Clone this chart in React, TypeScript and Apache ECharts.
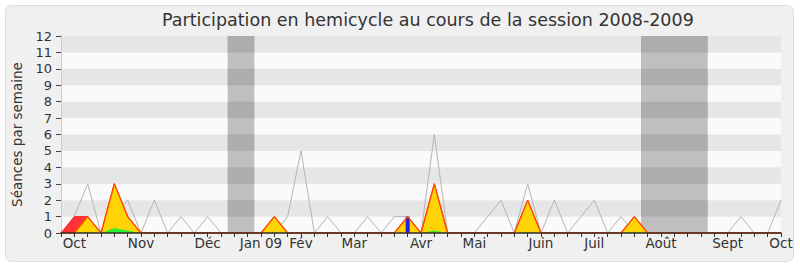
import React, { useEffect, useRef } from "react";
import * as echarts from "echarts";

// Week index (0..54) on the x axis; labels at the week where each month starts
const labelWeeks = [1, 6, 11, 15, 18, 22, 27, 31, 36, 40, 45, 50, 54];
const monthLabels = ["Oct", "Nov", "Déc", "Jan 09", "Fév", "Mar", "Avr", "Mai", "Juin", "Juil", "Août", "Sept", "Oct"];
const yTicks = [0, 1, 2, 3, 4, 5, 6, 7, 8, 9, 10, 11, 12];

// Grey line: séances de la semaine
const seances = [0, 1, 3, 0, 1, 2, 0, 2, 0, 1, 0, 1, 0, 0, 0, 0, 0, 1, 5, 0, 1, 0, 0, 1, 0, 1, 1, 0, 6, 0, 0, 0, 1, 2, 0, 3, 0, 2, 0, 1, 2, 0, 1, 0, 0, 0, 0, 0, 0, 0, 0, 1, 0, 0, 2];
// Red area: présences
const presences = [0, 1, 1, 0, 3, 1, 0, 0, 0, 0, 0, 0, 0, 0, 0, 0, 1, 0, 0, 0, 0, 0, 0, 0, 0, 0, 1, 0, 3, 0, 0, 0, 0, 0, 0, 2, 0, 0, 0, 0, 0, 0, 0, 1, 0, 0, 0, 0, 0, 0, 0, 0, 0, 0, 0];
// Yellow area: participations
const participations = [0, 0, 1, 0, 3, 1, 0, 0, 0, 0, 0, 0, 0, 0, 0, 0, 1, 0, 0, 0, 0, 0, 0, 0, 0, 0, 1, 0, 3, 0, 0, 0, 0, 0, 0, 2, 0, 0, 0, 0, 0, 0, 0, 1, 0, 0, 0, 0, 0, 0, 0, 0, 0, 0, 0];
// Green area: interventions
const interventions = [0, 0, 0.05, 0, 0.3, 0.15, 0, 0, 0, 0, 0, 0, 0, 0, 0, 0, 0.03, 0, 0, 0, 0, 0, 0, 0, 0, 0, 0, 0, 0.15, 0, 0, 0, 0, 0, 0, 0.05, 0, 0, 0, 0, 0, 0, 0, 0.05, 0, 0, 0, 0, 0, 0, 0, 0, 0, 0, 0];
// Blue bars: questions orales
const questionWeeks = [26];
const questionValues = [1];
// Vacances parlementaires
const vacStart = [12.5, 43.5];
const vacEnd = [14.5, 48.5];

const FONT = "DejaVu Sans";

export default function App() {
  const ref = useRef<HTMLDivElement>(null);
  useEffect(() => {
    if (!ref.current) return;
    const chart = echarts.init(ref.current, null, { renderer: "svg" });
    const pts = (arr: number[]) => arr.map((v, i) => [i, v]);

    const bandData: any[] = [];
    vacStart.forEach((s, k) => {
      const e = vacEnd[k];
      bandData.push([{ xAxis: s, yAxis: 0, itemStyle: { color: "#bfbfbf" } }, { xAxis: e, yAxis: 12 }]);
      yTicks.filter((t) => t % 2 === 1).forEach((t) => {
        bandData.push([{ xAxis: s, yAxis: t, itemStyle: { color: "#adadad" } }, { xAxis: e, yAxis: t + 1 }]);
      });
    });

    chart.setOption({
      animation: false,
      backgroundColor: "#ffffff",
      textStyle: { fontFamily: FONT },
      graphic: [
        {
          type: "rect",
          z: -10,
          shape: { x: 5.5, y: 5.5, width: 788, height: 256, r: 6 },
          style: { fill: "#f0f0f0", stroke: "#dedede", lineWidth: 1 },
        },
        {
          type: "text",
          z: 10,
          x: 162,
          y: 20,
          style: {
            text: "Participation en hemicycle au cours de la session 2008-2009",
            fontFamily: FONT,
            fontSize: 17.5,
            fill: "#333333",
            textAlign: "left",
            textVerticalAlign: "middle",
          },
        },
      ],
      grid: { left: 61, right: 19, top: 36, bottom: 34, containLabel: false },
      xAxis: [
        {
          type: "value",
          min: 0,
          max: 54,
          interval: 1,
          z: 10,
          axisLine: { show: true, onZero: false, lineStyle: { color: "#3a2a22", width: 1.5 } },
          axisTick: { show: true, length: 4, lineStyle: { color: "#333333" } },
          splitLine: { show: false },
          axisLabel: {
            customValues: labelWeeks,
            formatter: (v: number) => {
              const k = labelWeeks.indexOf(Math.round(v));
              return k >= 0 ? monthLabels[k] : "";
            },
            fontFamily: FONT,
            fontSize: 13.5,
            color: "#333333",
            margin: 3,
            hideOverlap: false,
          },
        },
        {
          type: "value",
          position: "top",
          min: 0,
          max: 54,
          interval: 1,
          axisLine: { show: false },
          axisTick: { show: true, inside: true, length: 1.5, lineStyle: { color: "#000000" } },
          axisLabel: { show: false },
          splitLine: { show: false },
        },
      ],
      yAxis: [
        {
          type: "value",
          min: 0,
          max: 12,
          interval: 1,
          name: "Séances par semaine",
          nameLocation: "middle",
          nameGap: 37,
          nameTextStyle: { fontFamily: FONT, fontSize: 13.5, color: "#333333" },
          axisLine: { show: true, lineStyle: { color: "#444444" } },
          axisTick: { show: true, length: 5, lineStyle: { color: "#444444" } },
          axisLabel: { fontFamily: FONT, fontSize: 13, color: "#333333", margin: 9 },
          splitLine: { show: false },
          splitArea: { show: true, areaStyle: { color: ["#fafafa", "#e6e6e6"] } },
        },
        {
          type: "value",
          position: "right",
          min: 0,
          max: 12,
          interval: 1,
          axisLine: { show: true, lineStyle: { color: "#cccccc" } },
          axisTick: { show: false },
          axisLabel: { show: false },
          splitLine: { show: false },
        },
      ],
      series: [
        {
          name: "vacances",
          type: "line",
          z: 1,
          data: [],
          markArea: { silent: true, data: bandData },
        },
        {
          name: "séances",
          type: "line",
          z: 2,
          data: pts(seances),
          showSymbol: false,
          symbol: "none",
          lineStyle: { color: "#b4b4b4", width: 1 },
        },
        {
          name: "présences",
          type: "line",
          z: 3,
          data: pts(presences),
          symbol: "none",
          lineStyle: { color: "#ff2a2a", width: 1 },
          areaStyle: { color: "#ff3333", opacity: 1 },
        },
        {
          name: "participations",
          type: "line",
          z: 3,
          data: pts(participations),
          symbol: "none",
          lineStyle: { width: 0 },
          areaStyle: { color: "#ffd305", opacity: 1 },
        },
        {
          name: "interventions",
          type: "line",
          z: 3,
          data: pts(interventions),
          symbol: "none",
          lineStyle: { width: 0 },
          areaStyle: { color: "#2ef02e", opacity: 1 },
        },
        {
          name: "questions",
          type: "bar",
          z: 4,
          barWidth: 4,
          data: questionWeeks.map((w, k) => [w, questionValues[k]]),
          itemStyle: { color: "#2222e6" },
        },
        {
          name: "participations-contour",
          type: "line",
          z: 5,
          data: pts(participations),
          symbol: "none",
          lineStyle: { color: "#ff4d00", width: 1.3 },
        },
      ],
    });
    return () => chart.dispose();
  }, []);
  return (
    <div
      ref={ref}
      style={{ position: "absolute", left: 0, top: 0, width: 800, height: 267 }}
    />
  );
}
